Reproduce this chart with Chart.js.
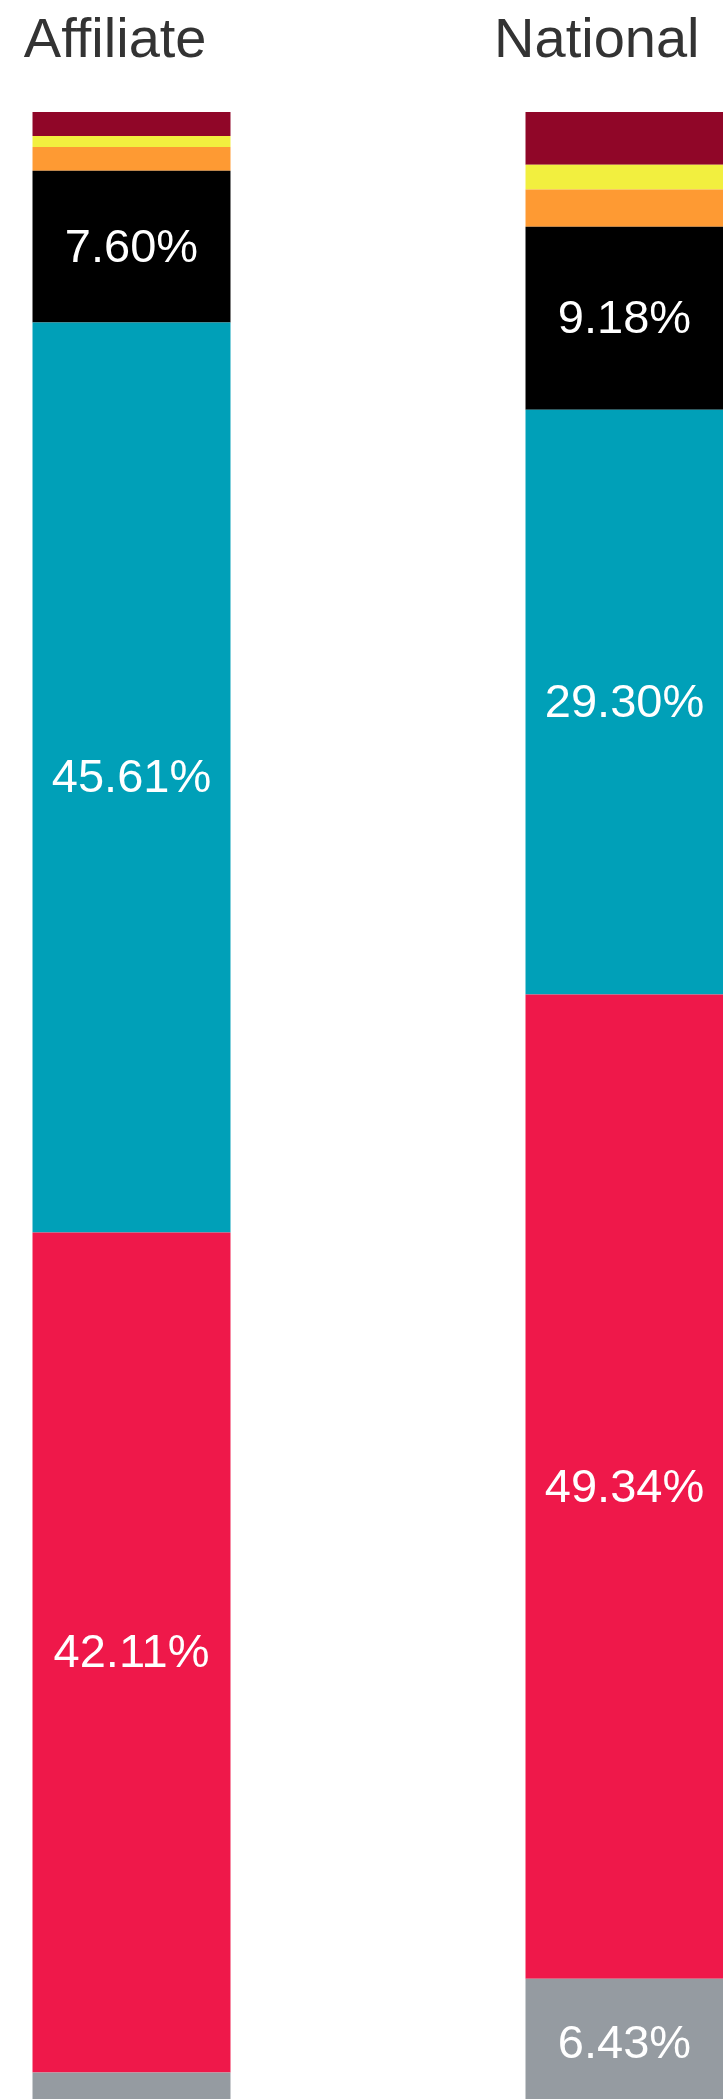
<!DOCTYPE html>
<html>
<head>
<meta charset="utf-8">
<script src="https://cdn.jsdelivr.net/npm/chart.js@4/dist/chart.umd.min.js"></script>
<style>
  html, body { margin: 0; padding: 0; background: #fff; overflow: hidden; width: 723px; height: 2099px; }
  #wrap { position: absolute; left: -115px; top: 0; }
</style>
</head>
<body>
<div id="wrap"><canvas id="shareChart" width="986" height="2110"></canvas></div>
<script>
// groups, bottom segment first
var groups = ["Affiliate", "National"];
var segments = ["Gray", "Red", "Teal", "Black", "Orange", "Yellow", "Dark red"];
var gray    = [1.73, 6.43];
var red     = [42.11, 49.34];
var teal    = [45.61, 29.30];
var black   = [7.60, 9.18];
var orange  = [1.20, 1.86];
var yellow  = [0.55, 1.25];
var darkRed = [1.20, 2.64];

var seriesValues = [gray, red, teal, black, orange, yellow, darkRed];
var colors = ['#959BA1', '#EF184A', '#00A0B8', '#000000', '#FE9A33', '#F2EF3F', '#900628'];

var datasets = [];
for (var i in seriesValues) {
    datasets.push({
        label: segments[i],
        data: seriesValues[i],
        backgroundColor: colors[i],
        borderWidth: 0,
        categoryPercentage: 1.0,
        barPercentage: 0.4016
    });
}

// percent labels inside the bigger segments + group titles above bars
var labelPlugin = {
    id: 'labels',
    afterDatasetsDraw: function(chart) {
        var ctx = chart.ctx;
        ctx.save();
        ctx.fillStyle = '#ffffff';
        ctx.font = '47px "Liberation Sans", Arial, sans-serif';
        ctx.textAlign = 'center';
        ctx.textBaseline = 'middle';
        chart.data.datasets.forEach(function(ds, d) {
            var meta = chart.getDatasetMeta(d);
            meta.data.forEach(function(bar, j) {
                var v = ds.data[j];
                if (v < 5) return;
                ctx.fillText(v.toFixed(2) + '%', bar.x, (bar.y + bar.base) / 2 + 2);
            });
        });

        var xs = chart.scales.x;
        ctx.fillStyle = '#333333';
        ctx.font = '56px "Liberation Sans", Arial, sans-serif';
        ctx.textAlign = 'right';
        ctx.textBaseline = 'alphabetic';
        groups.forEach(function(name, j) {
            ctx.fillText(name, xs.getPixelForValue(j) + 75, 57);
        });
        ctx.restore();
    }
};

var ctx = document.getElementById('shareChart');

var myBarChart = new Chart(ctx, {
    type: 'bar',
    data: {
        labels: groups,
        datasets: datasets
    },
    options: {
        responsive: false,
        animation: false,
        devicePixelRatio: 1,
        layout: {
            padding: { top: 112, bottom: 3, left: 0, right: 0 }
        },
        scales: {
            x: { stacked: true, display: false },
            y: { stacked: true, display: false, min: 0, max: 100 }
        },
        plugins: {
            legend: { display: false },
            tooltip: { enabled: false }
        }
    },
    plugins: [labelPlugin]
});
</script>
</body>
</html>
